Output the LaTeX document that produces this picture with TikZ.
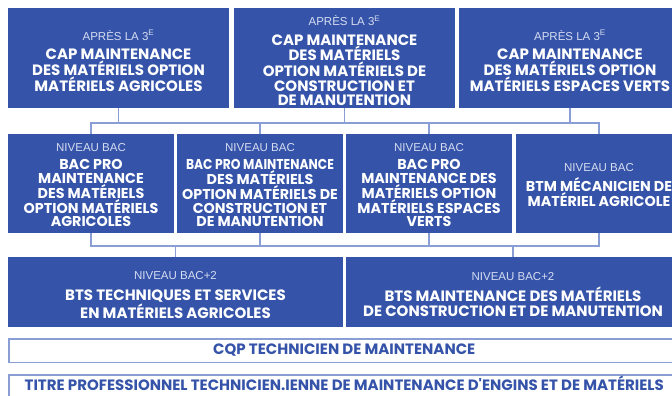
\documentclass[tikz,border=0pt]{standalone}
\usepackage{fontspec}
\setmainfont{Liberation Sans}
\newfontfamily\titlefont{Poppins}
\definecolor{boxblue}{HTML}{3554A9}
\definecolor{linkblue}{HTML}{8A9ED6}
\definecolor{subtext}{HTML}{D6DDF1}
\newcommand\lvl[3][5pt]{{\normalfont\fontsize{11.5}{12}\selectfont\color{subtext}\rule{0pt}{#3}#2}\\[#1]}
\newcommand\squeeze[1]{\scalebox{0.86}[1]{#1}}
\tikzset{
  bluebox/.style={fill=boxblue, draw=none, inner sep=0pt, align=center, text=white,
    font=\titlefont\bfseries\fontsize{15}{14.5}\selectfont},
  midbox/.style={bluebox, font=\titlefont\bfseries\fontsize{14.3}{13.6}\selectfont},
  lowbox/.style={bluebox, font=\titlefont\bfseries\fontsize{15}{15}\selectfont},
  outbox/.style={draw=linkblue, line width=1.5pt, fill=white, inner sep=0pt, align=center,
    text=boxblue, font=\titlefont\bfseries\fontsize{15}{15}\selectfont},
  conn/.style={draw=linkblue, line width=1.5pt},
}
\begin{document}
\begin{tikzpicture}[x=1pt,y=-1pt]
\useasboundingbox (0,0) rectangle (672,396);
\clip (0,0) rectangle (672,396);
% row 1
\node[bluebox, minimum width=221pt, minimum height=99.5pt] (r1a) at (118.5,58.25)
  {\lvl{APRÈS LA 3\textsuperscript{E}}{15pt}CAP MAINTENANCE\\DES MATÉRIELS OPTION\\MATÉRIELS AGRICOLES};
\node[bluebox, minimum width=221pt, minimum height=99.5pt] (r1b) at (344.5,58.25)
  {\lvl{APRÈS LA 3\textsuperscript{E}}{15pt}CAP MAINTENANCE\\DES MATÉRIELS\\OPTION MATÉRIELS DE\\CONSTRUCTION ET\\DE MANUTENTION};
\node[bluebox, minimum width=222pt, minimum height=99.5pt] (r1c) at (570,58.25)
  {\lvl{APRÈS LA 3\textsuperscript{E}}{15pt}CAP MAINTENANCE\\DES MATÉRIELS OPTION\\MATÉRIELS ESPACES VERTS};
% row 2
\node[midbox, minimum width=166pt, minimum height=99pt] (r2a) at (91,183.5)
  {\lvl[4.5pt]{NIVEAU BAC}{11.5pt}BAC PRO\\MAINTENANCE\\DES MATÉRIELS\\OPTION MATÉRIELS\\AGRICOLES};
\node[midbox, minimum width=166pt, minimum height=99pt] (r2b) at (260,183.5)
  {\lvl[4.5pt]{NIVEAU BAC}{11.5pt}\squeeze{BAC PRO MAINTENANCE}\\DES MATÉRIELS\\OPTION MATÉRIELS DE\\CONSTRUCTION ET\\DE MANUTENTION};
\node[midbox, minimum width=166pt, minimum height=99pt] (r2c) at (429,183.5)
  {\lvl[4.5pt]{NIVEAU BAC}{11.5pt}BAC PRO\\MAINTENANCE DES\\MATÉRIELS OPTION\\MATÉRIELS ESPACES\\VERTS};
\node[midbox, minimum width=166pt, minimum height=99pt] (r2d) at (599,183.5)
  {\lvl[4.5pt]{NIVEAU BAC}{11.5pt}BTM MÉCANICIEN DE\\MATÉRIEL AGRICOLE};
% row 3
\node[lowbox, minimum width=335pt, minimum height=70pt] (r3a) at (175.5,292)
  {\lvl[6pt]{NIVEAU BAC+2}{14pt}BTS TECHNIQUES ET SERVICES\\EN MATÉRIELS AGRICOLES};
\node[lowbox, minimum width=334pt, minimum height=70pt] (r3b) at (513,292)
  {\lvl[6pt]{NIVEAU BAC+2}{14pt}BTS MAINTENANCE DES MATÉRIELS\\DE CONSTRUCTION ET DE MANUTENTION};
% outlined rows
\node[outbox, minimum width=671pt, minimum height=23.5pt] (cqp) at (344.25,350.5)
  {CQP TECHNICIEN DE MAINTENANCE};
\node[outbox, minimum width=671pt, minimum height=30pt, text height=10.5pt, text depth=10pt] (titre) at (344.25,389.75)
  {TITRE PROFESSIONNEL TECHNICIEN.IENNE DE MAINTENANCE D\textquotesingle ENGINS ET DE MATÉRIELS};
% connectors
\coordinate (bus1) at (345,123);
\coordinate (bus2) at (345,246);
\draw[conn] (r2a.north) |- (bus1) -| (r2d.north);
\draw[conn] (r2b.north) -- (r2b.north |- bus1);
\draw[conn] (r2c.north) -- (r2c.north |- bus1);
\draw[conn] (r1a.south) -- (r1a.south |- bus1);
\draw[conn] (r1b.south) -- (r1b.south |- bus1);
\draw[conn] (r1c.south) -- (r1c.south |- bus1);
\draw[conn] (r2a.south) |- (bus2) -| (r2d.south);
\draw[conn] (r2b.south) -- (r2b.south |- bus2);
\draw[conn] (r2c.south) -- (r2c.south |- bus2);
\draw[conn] (r3a.north) -- (r3a.north |- bus2);
\draw[conn] (r3b.north) -- (r3b.north |- bus2);
\end{tikzpicture}
\end{document}
